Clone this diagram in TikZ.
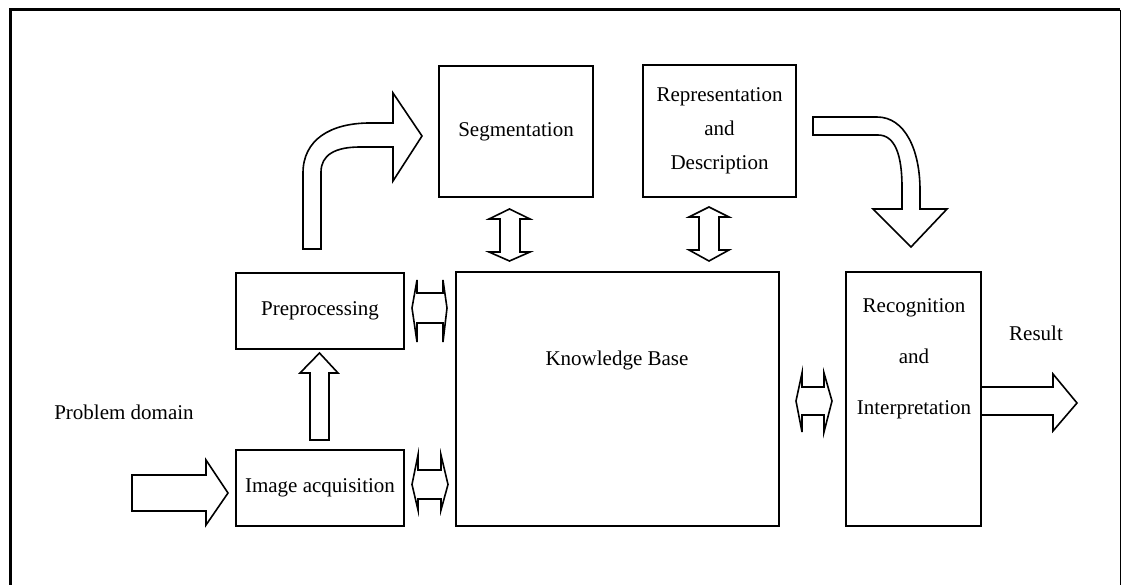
\documentclass[tikz,border=0pt]{standalone}
\usepackage{fontspec}
\setmainfont{Liberation Serif}
\usepackage{tikz}
\usetikzlibrary{positioning}
\usetikzlibrary{calc}

\tikzstyle{box} = [draw, line width=2pt, inner sep=0pt, align=center, font=\fontsize{21}{34}\selectfont]
\tikzstyle{lbl} = [inner sep=0pt, align=center, font=\fontsize{21}{22}\selectfont]
\tikzstyle{blockarrow} = [draw, line width=1.6pt, fill=white, line join=miter]

\begin{document}
\begin{tikzpicture}[x=1pt, y=-1pt]
    \useasboundingbox (0,0) rectangle (1122,585);
    % outer frame
    \draw[line width=3pt] (10,585) -- (10,10) -- (1120,10);
    \draw[line width=0.8pt] (1120,10) -- (1120,585);

    % boxes
    \node[box, minimum width=154, minimum height=131] (seg) at (516,131.5) {Segmentation};
    \node[box, minimum width=153, minimum height=132] (rep) at (719.5,131) {Representation\\and\\Description};
    \node[box, minimum width=168, minimum height=76] (pre) at (320,311) {Preprocessing};
    \node[box, minimum width=168, minimum height=76] (acq) at (320,488) {Image acquisition};
    \node[box, minimum width=323, minimum height=254] (kb) at (617.5,399) {};
    \node[box, minimum width=135, minimum height=254] (rec) at (913.5,399) {};
    \node[lbl] (kbtext) at (617,360) {Knowledge Base};
    \node[lbl, font=\fontsize{21}{51}\selectfont] (rectext) at (914,359) {Recognition\\and\\Interpretation};
    \node[lbl] (problem) at (124,412) {Problem domain};
    \node[lbl] (result) at (1036,333) {Result};

    % input and output arrows
    \draw[blockarrow] (132,475) -- (206,475) -- (206,460) -- (228,493) -- (206,525) -- (206,511) -- (132,511) -- cycle;
    \draw[blockarrow] (rec.east |- 0,387) -- (1053,387) -- (1053,374) -- (1077,403) -- (1053,431) -- (1053,415) -- (rec.east |- 0,415);

    % acquisition -> preprocessing
    \draw[blockarrow] (310,440) -- (310,373) -- (300,373) -- (319.5,353) -- (338,373) -- (329,373) -- (329,440) -- cycle;

    % preprocessing -> segmentation
    \draw[blockarrow] (303,249) -- (303,173) .. controls (303,140) and (330,123) .. (370,123) -- (393,123) -- (393,93)
        -- (422,136) -- (393,181) -- (393,147) -- (360,147) .. controls (335,147) and (321,155) .. (321,172) -- (321,249) -- cycle;

    % description -> recognition
    \draw[blockarrow] (813,117) -- (877,117) .. controls (905,117) and (920,150) .. (920,190) -- (920,209) -- (947,209)
        -- (911,247) -- (873,209) -- (902,209) -- (902,187) .. controls (902,155) and (895,135) .. (878,135) -- (813,135) -- cycle;

    % vertical two-way arrows to the knowledge base
    \draw[blockarrow] (509.5,209) -- (530,219) -- (520,219) -- (520,252) -- (530,252) -- (509.5,261) -- (489,252) -- (500,252) -- (500,219) -- (489,219) -- cycle;
    \draw[blockarrow] (709,207) -- (729,217) -- (719,217) -- (719,250) -- (729,250) -- (709,261) -- (689,250) -- (699,250) -- (699,217) -- (689,217) -- cycle;

    % horizontal two-way arrows to the knowledge base
    \foreach \xa/\xb/\xc/\xd/\ya/\yb/\yc/\yd in {412/417/443/447/280/293/323/342, 412/418/441/448/455/470/499/510, 796/802/824/832/373/387/415/432} {
        \draw[blockarrow] (\xa,{(\yb+\yc)/2}) -- (\xb,\ya) -- (\xb,\yb) -- (\xc,\yb) -- (\xc,\ya) -- (\xd,{(\yb+\yc)/2})
            -- (\xc,\yd) -- (\xc,\yc) -- (\xb,\yc) -- (\xb,\yd) -- cycle;
    }
\end{tikzpicture}
\end{document}
